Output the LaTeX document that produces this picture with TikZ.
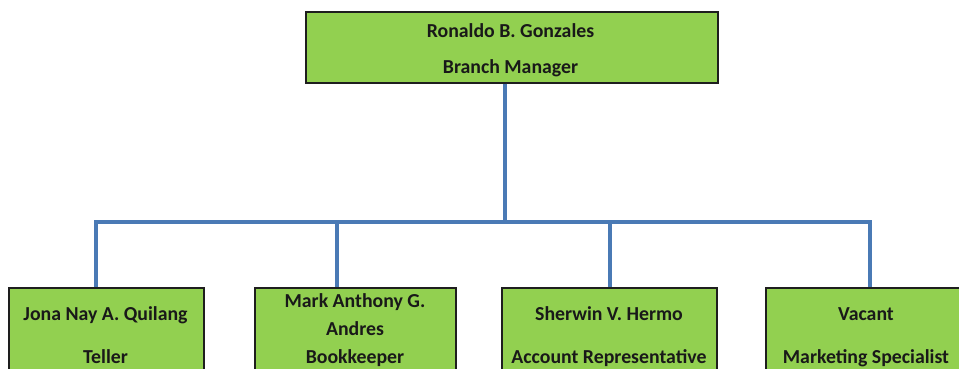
\documentclass[tikz,border=0pt]{standalone}
\usepackage{fontspec}
\setmainfont{Carlito}
\definecolor{boxgreen}{HTML}{92D050}
\definecolor{boxedge}{HTML}{1E1E1E}
\definecolor{linkblue}{HTML}{4A7AB5}
\begin{document}
\begin{tikzpicture}[x=1pt,y=-1pt,
  orgbox/.style={draw=boxedge, line width=1.6pt, fill=boxgreen, rectangle, inner sep=0pt, anchor=north west},
  orgtext/.style={font=\fontsize{19.8}{22}\selectfont\bfseries, text=black!90, anchor=base, inner sep=0pt},
  link/.style={draw=linkblue, line width=4pt}]
\useasboundingbox (0,0) rectangle (959,369);
\clip (0,0) rectangle (959,369);
\fill[white] (0,0) rectangle (959,369);

% boxes
\node[orgbox, minimum width=412, minimum height=71] (top) at (305,11) {};
\node[orgbox, minimum width=195, minimum height=110] (b1) at (8,287) {};
\node[orgbox, minimum width=201, minimum height=110] (b2) at (254,287) {};
\node[orgbox, minimum width=215, minimum height=110] (b3) at (501,287) {};
\node[orgbox, minimum width=202, minimum height=110] (b4) at (765,287) {};

% bus junctions
\coordinate (stem) at (505,222);
\coordinate (j1) at (96,222);
\coordinate (j2) at (337,222);
\coordinate (j3) at (610,222);
\coordinate (j4) at (870,222);

\draw[link] (stem |- top.south) -- (stem);
\draw[link] (j1 |- b1.north) -- (j1) -- (j4) -- (j4 |- b4.north);
\draw[link] (j2) -- (j2 |- b2.north);
\draw[link] (j3) -- (j3 |- b3.north);

% labels
\node[orgtext] (t1) at (510.5,38) {Ronaldo B. Gonzales};
\node[orgtext] (t2) at (510.5,73.5) {Branch Manager};
\node[orgtext] (n1) at (105.5,320) {Jona Nay A. Quilang};
\node[orgtext] (r1) at (105.5,363) {Teller};
\node[orgtext] (n2a) at (355,307) {Mark Anthony G.};
\node[orgtext] (n2b) at (355,335) {Andres};
\node[orgtext] (r2) at (355,363) {Bookkeeper};
\node[orgtext] (n3) at (609,320) {Sherwin V. Hermo};
\node[orgtext] (r3) at (609,363) {Account Representative};
\node[orgtext] (n4) at (866,320) {Vacant};
\node[orgtext] (r4) at (866,363) {Marketing Specialist};
\end{tikzpicture}
\end{document}
